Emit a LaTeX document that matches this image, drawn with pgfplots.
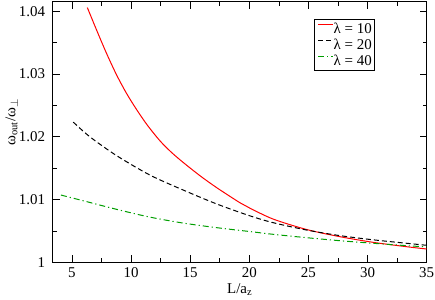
\documentclass[border=0pt]{standalone}
\usepackage{pgfplots}
\pgfplotsset{compat=1.18}
\usepackage{fontspec}
\setmainfont{Liberation Serif}
\definecolor{grgreen}{rgb}{0.0,0.62,0.0}
\begin{document}
\fontsize{15}{17}\selectfont
\begin{tikzpicture}
\begin{axis}[
  scale only axis,
  width=374bp, height=260.3bp,
  xmin=3.37, xmax=35, ymin=1, ymax=1.0415,
  xtick={5,10,15,20,25,30,35},
  ytick={1,1.01,1.02,1.03,1.04},
  yticklabels={1,1.01,1.02,1.03,1.04},
  minor xtick={7.5,12.5,17.5,22.5,27.5,32.5},
  minor ytick={1.005,1.015,1.025,1.035},
  tick align=inside,
  major tick length=7bp, minor tick length=4bp,
  every tick/.style={black, line width=0.8pt},
  axis line style={line width=1pt},
  /pgf/number format/assume math mode=true,
  tick label style={font=\fontsize{15}{17}\selectfont},
  yticklabel style={xshift=-2.5bp},
  xlabel={L/a\textsubscript{z}},
  ylabel={ω\textsubscript{out}/ω\textsubscript{$\perp$}},
  label style={font=\fontsize{15}{17}\selectfont},
  xlabel style={at={(axis description cs:0.5,0)}, anchor=base, yshift=-31bp},
  ylabel style={at={(axis description cs:-0.1,0.539)}, anchor=base},
  legend style={at={(0.6995,0.9347)}, anchor=north west, draw=black, line width=0.8pt,
    font=\fontsize{15}{17}\selectfont, inner sep=3bp, row sep=3bp,
    nodes={inner sep=0pt, text height=11bp, text depth=2bp}},
  legend cell align=left,
  legend image code/.code={\draw[#1] (0bp,4bp) -- (15bp,4bp);},
]
\coordinate (sw) at (rel axis cs:0,0);
\coordinate (ne) at (rel axis cs:1,1);
\addplot[red, line width=1pt, smooth] coordinates {
(6.30,1.04061) (7.09,1.03699) (7.93,1.03328) (8.78,1.02985) (9.62,1.02691)
(10.5,1.02425) (11.4,1.02180) (12.45,1.01935) (13.4,1.01755) (14.42,1.01590)
(15.83,1.01380) (17.24,1.01190) (19.21,1.00949) (20.06,1.00862) (22.03,1.00688)
(24.86,1.00522) (27.67,1.00408) (30.49,1.00318) (33.32,1.00248) (35,1.00212)
};
\addlegendentry{λ = 10}
\addplot[black, line width=1pt, smooth, dash pattern=on 5bp off 3bp] coordinates {
(5.11,1.02235) (6.52,1.02000) (8.78,1.01700) (11.60,1.01390) (14.42,1.01151)
(17.24,1.00930) (20.06,1.00740) (22.03,1.00631) (24.86,1.00514)
(27.67,1.00425) (30.49,1.00358) (33.32,1.00303) (35,1.00271)
};
\addlegendentry{λ = 20}
\addplot[grgreen, line width=1pt, smooth, dash pattern=on 6bp off 3bp on 1.2bp off 3bp] coordinates {
(4.07,1.01072) (5.96,1.00981) (8.78,1.00844) (11.60,1.00720) (14.42,1.00625)
(17.24,1.00552) (20.06,1.00490) (22.03,1.00446) (24.86,1.00392) (27.67,1.00344)
(30.49,1.00303) (33.32,1.00265) (35,1.00245)
};
\addlegendentry{λ = 40}
\end{axis}
\pgfresetboundingbox
\useasboundingbox ([xshift=-52.7bp,yshift=-37.7bp]sw) rectangle ([xshift=8.3bp,yshift=2bp]ne);
\end{tikzpicture}
\end{document}
